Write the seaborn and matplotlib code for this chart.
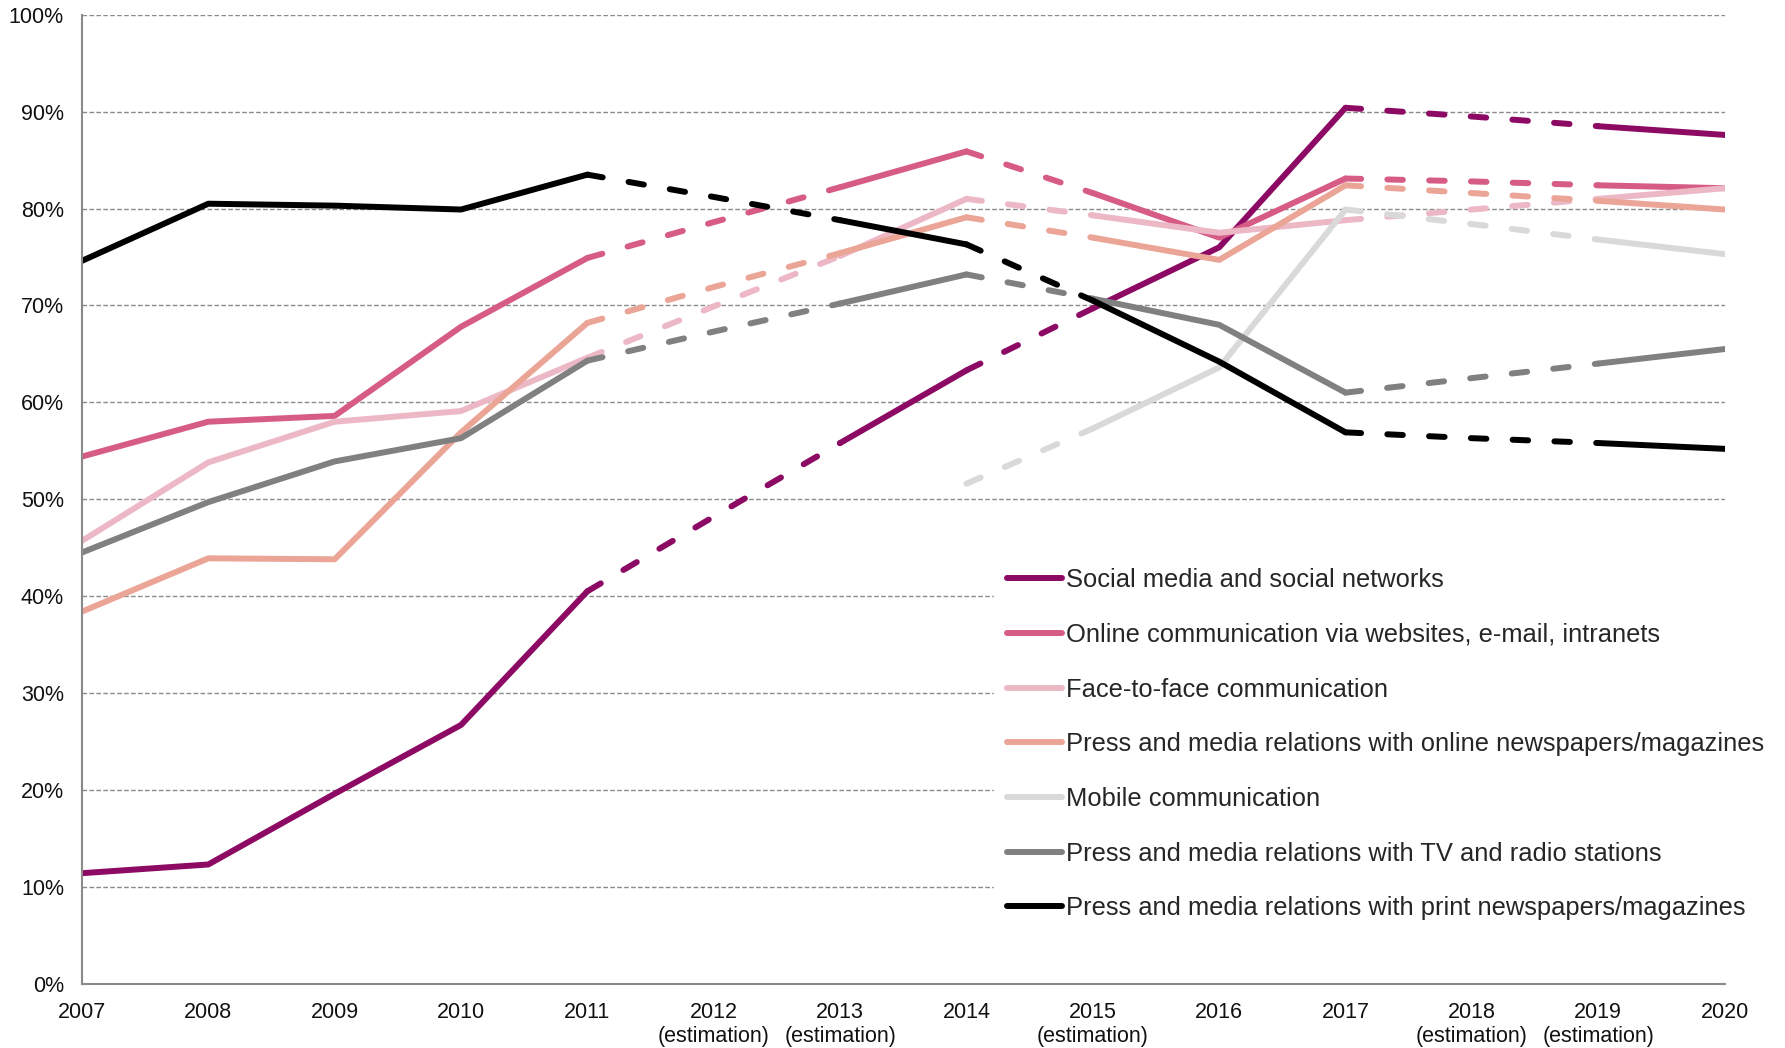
import matplotlib
matplotlib.use("Agg")
import matplotlib.pyplot as plt
from matplotlib.lines import Line2D
import seaborn as sns
import pandas as pd
import numpy as np

# ---------------- data ----------------
years = [2007, 2008, 2009, 2010, 2011, 2012, 2013, 2014, 2015, 2016, 2017, 2018, 2019, 2020]
estimation_years = [2012, 2013, 2015, 2018, 2019]

series_names = [
    "Social media and social networks",
    "Online communication via websites, e-mail, intranets",
    "Face-to-face communication",
    "Press and media relations with online newspapers/magazines",
    "Mobile communication",
    "Press and media relations with TV and radio stations",
    "Press and media relations with print newspapers/magazines",
]

social_media = [11.4, 12.3, 19.6, 26.7, 40.5, 48.2, 55.8, 63.3, 69.7, 76.0, 90.4, 89.5, 88.5, 87.6]
online_comm = [54.4, 58.0, 58.6, 67.8, 74.9, 78.6, 82.2, 85.9, 81.6, 77.0, 83.1, 82.8, 82.4, 82.1]
face_to_face = [45.7, 53.8, 58.0, 59.1, 64.6, 69.9, 75.1, 81.0, 79.3, 77.5, 78.8, 79.9, 81.0, 82.1]
press_online = [38.4, 43.9, 43.8, 56.9, 68.2, 71.9, 75.4, 79.1, 77.0, 74.7, 82.4, 81.6, 80.8, 79.9]
mobile_comm = [None, None, None, None, None, None, None, 51.6, 57.3, 63.6, 79.9, 78.4, 76.8, 75.3]
press_tv_radio = [44.5, 49.7, 53.9, 56.3, 64.3, 67.3, 70.2, 73.2, 70.7, 68.0, 61.0, 62.5, 64.0, 65.5]
press_print = [74.6, 80.5, 80.3, 79.9, 83.5, 81.2, 78.8, 76.3, 70.5, 64.2, 56.9, 56.3, 55.8, 55.2]

series_values = [social_media, online_comm, face_to_face, press_online,
                 mobile_comm, press_tv_radio, press_print]

colors = ["#8C0A64", "#D65C86", "#EDB8C6", "#EBA597", "#D9D9D9", "#808080", "#000000"]

y_ticks = [0, 10, 20, 30, 40, 50, 60, 70, 80, 90, 100]

# ---------------- build long table of line pieces ----------------
rows = []
for name, vals in zip(series_names, series_values):
    unit = 0
    prev_style = None
    for i in range(len(years) - 1):
        a, b = vals[i], vals[i + 1]
        if a is None or b is None:
            continue
        style = "dashed" if years[i + 1] in estimation_years else "solid"
        if style != prev_style:
            unit += 1
            rows.append(dict(series=name, year=years[i], value=a, kind=style, unit=f"{name}-{unit}"))
        rows.append(dict(series=name, year=years[i + 1], value=b, kind=style, unit=f"{name}-{unit}"))
        prev_style = style
df = pd.DataFrame(rows)

# ---------------- figure ----------------
sns.set_style("white")
plt.rcParams["font.family"] = ["Liberation Sans", "DejaVu Sans"]

fig = plt.figure(figsize=(17.85, 10.48), dpi=100)
ax = fig.add_axes([0.0459, 0.0614, 0.9203, 0.9245])

grid_color = "#8A8A8A"
for yt in y_ticks[1:]:
    ax.axhline(yt, color=grid_color, lw=1.0, linestyle=(0, (3.3, 1.7)), zorder=0.5)

lw = 4.3
sns.lineplot(
    data=df, x="year", y="value", hue="series", style="kind", units="unit",
    estimator=None, sort=False, hue_order=series_names, style_order=["solid", "dashed"],
    palette=dict(zip(series_names, colors)),
    dashes={"solid": "", "dashed": (2.6, 4.4)},
    linewidth=lw, legend=False, ax=ax,
    dash_capstyle="round", solid_capstyle="round", solid_joinstyle="round",
)

ax.set_xlim(2007, 2020)
ax.set_ylim(0, 100)
ax.set_xlabel("")
ax.set_ylabel("")
ax.set_xticks(years)
ax.set_xticklabels([f"{y}\n(estimation)" if y in estimation_years else f"{y}" for y in years],
                   fontsize=15.5, linespacing=1.2)
ax.set_yticks(y_ticks)
ax.set_yticklabels([f"{v}%" for v in y_ticks], fontsize=15.5)

for side in ["top", "right"]:
    ax.spines[side].set_visible(False)
for side in ["left", "bottom"]:
    ax.spines[side].set_color("#8A8A8A")
    ax.spines[side].set_linewidth(1.5)

ax.tick_params(axis="both", which="major", direction="out", length=6, width=1.2,
               color="#8A8A8A", labelcolor="#111111")
ax.tick_params(axis="y", pad=7)
ax.tick_params(axis="x", pad=7)
ax.grid(False)

handles = [Line2D([0], [0], color=c, lw=4.3, solid_capstyle="round") for c in colors]
leg = fig.legend(
    handles, series_names, loc="upper left",
    bbox_to_anchor=(994 / 1785, 1 - 555.5 / 1048), bbox_transform=fig.transFigure,
    frameon=True, fancybox=False, framealpha=1, facecolor="white", edgecolor="white",
    fontsize=18.4, borderpad=0.5, handlelength=2.15, handletextpad=0.15,
    labelspacing=1.2, borderaxespad=0,
)
leg.set_zorder(10)

fig.savefig("out.png", dpi=100)
